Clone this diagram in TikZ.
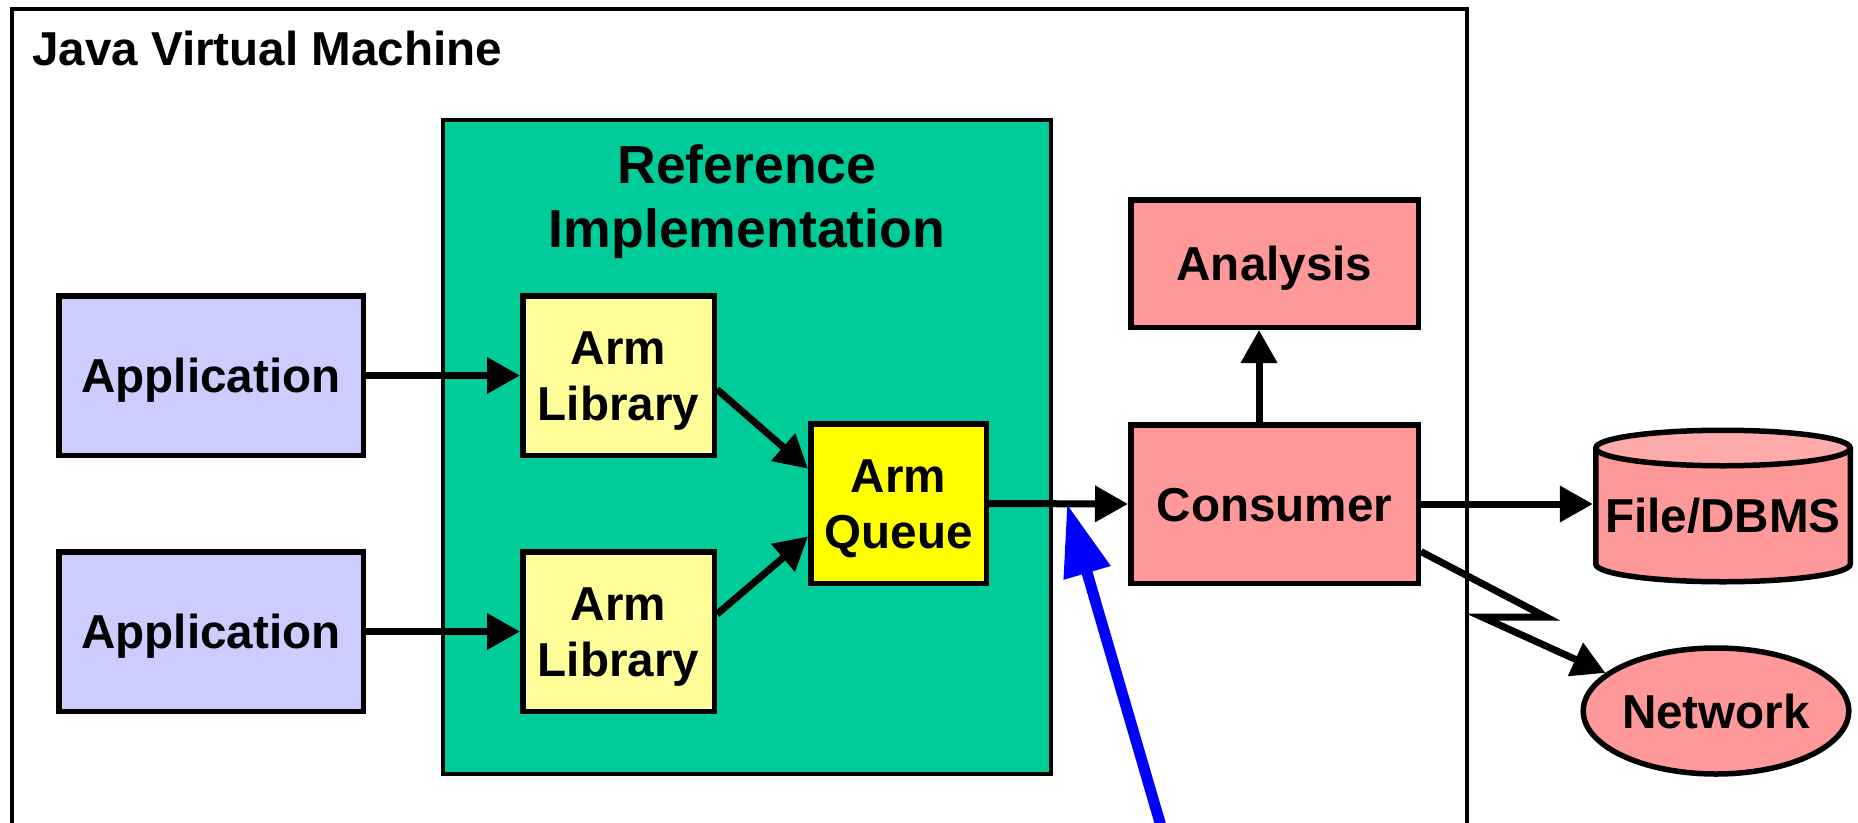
\documentclass[tikz,border=0pt]{standalone}
\usepackage{fontspec}
\setmainfont{Liberation Sans}
\usetikzlibrary{arrows.meta,calc,shapes.geometric}
\definecolor{appblue}{HTML}{CCCCFF}
\definecolor{libyellow}{HTML}{FFFF99}
\definecolor{queueyellow}{HTML}{FFFF00}
\definecolor{refgreen}{HTML}{00CC99}
\definecolor{pinkfill}{HTML}{FF9999}
\definecolor{pinktop}{HTML}{FFAAAA}
\newcommand\diagfont{\fontsize{47.6pt}{56pt}\selectfont\bfseries}
\newcommand\titlefont{\fontsize{53.6pt}{64pt}\selectfont\bfseries}
\begin{document}
\begin{tikzpicture}[x=1pt,y=1pt,
  every node/.style={inner sep=0pt},
  boxnode/.style={draw, line width=5.5pt, font=\diagfont, align=center, text height=34pt, text depth=0pt},
  twoline/.style={text height=90pt, text depth=0pt},
  conn/.style={line width=7pt, -{Triangle[length=33pt,width=35pt]}},
]
\useasboundingbox (0,0) rectangle (1858,-822);
\clip (0,0) rectangle (1858,-822);

% containers
\node[draw, line width=4pt, minimum width=1455pt, minimum height=817pt, anchor=north west] (jvm) at (10,-7) {};
\node[anchor=base west, font=\diagfont] (jvmtitle) at (32,-65) {Java Virtual Machine};
\node[draw, line width=4pt, fill=refgreen, minimum width=607.7pt, minimum height=654.5pt, anchor=north west] (ri) at (441,-117.5) {};
\node[font=\titlefont, align=center, anchor=north, text height=102.5pt, text depth=0pt] (rititle) at (747,-144.5) {Reference\\Implementation};

% boxes
\node[boxnode, fill=appblue, minimum width=304.5pt, minimum height=159.5pt] (app1) at (211,-375.5) {Application};
\node[boxnode, fill=appblue, minimum width=304.5pt, minimum height=159.5pt] (app2) at (211,-631.5) {Application};
\node[boxnode, twoline, fill=libyellow, minimum width=191.5pt, minimum height=159.5pt] (lib1) at (618.5,-375.5) {Arm\\Library};
\node[boxnode, twoline, fill=libyellow, minimum width=191.5pt, minimum height=159.5pt] (lib2) at (618.5,-631.5) {Arm\\Library};
\node[boxnode, twoline, fill=queueyellow, minimum width=175.5pt, minimum height=159.5pt] (queue) at (898.5,-503.5) {Arm\\Queue};
\node[boxnode, fill=pinkfill, minimum width=287.5pt, minimum height=158.5pt] (cons) at (1274.5,-504) {Consumer};
\node[boxnode, fill=pinkfill, minimum width=287.5pt, minimum height=127.5pt] (ana) at (1274.5,-263.5) {Analysis};

% cylinder File/DBMS
\fill[pinkfill] (1595.75,-448) -- (1595.75,-564) arc[start angle=180, end angle=360, x radius=127.25, y radius=17.75] -- (1850.25,-448) -- cycle;
\draw[line width=5.5pt] (1595.75,-448) -- (1595.75,-564) arc[start angle=180, end angle=360, x radius=127.25, y radius=17.75] -- (1850.25,-448);
\draw[line width=5.5pt, fill=pinktop] (1723,-448) ellipse[x radius=127.25, y radius=17.75];
\node[font=\diagfont, text height=34pt, text depth=0pt, minimum width=260pt] (db) at (1723,-515) {File/DBMS};

% network
\node[ellipse, draw, line width=5.5pt, fill=pinkfill, font=\diagfont, text height=34pt, text depth=0pt, minimum width=240pt, minimum height=126pt] (net) at (1716,-711) {Network};

% connectors
\draw[conn] (app1.east) -- (lib1.west);
\draw[conn] (app2.east) -- (lib2.west);
\draw[conn] (lib1.-8.9) -- (queue.159.7);
\draw[conn] (lib2.10.1) -- (queue.200.3);
\draw[conn] (queue.east) -- coordinate[pos=0.561] (hit) (cons.west);
\draw[conn] ([xshift=-15.5pt]cons.north) -- ([xshift=-15.5pt]ana.south);
\draw[conn] (cons.east) -- (cons.east -| db.west);
\coordinate (z1) at (1546,-617);
\coordinate (z2) at (1482,-617);
\draw[conn, line join=miter] (cons.-18.5) -- (z1) -- (z2) -- (net.161.6);

% blue arrow
\coordinate (bluestart) at (1165,-840);
\draw[blue, line width=11pt, -{Triangle[length=72pt,width=46pt]}] (bluestart) -- (hit);
\end{tikzpicture}
\end{document}
